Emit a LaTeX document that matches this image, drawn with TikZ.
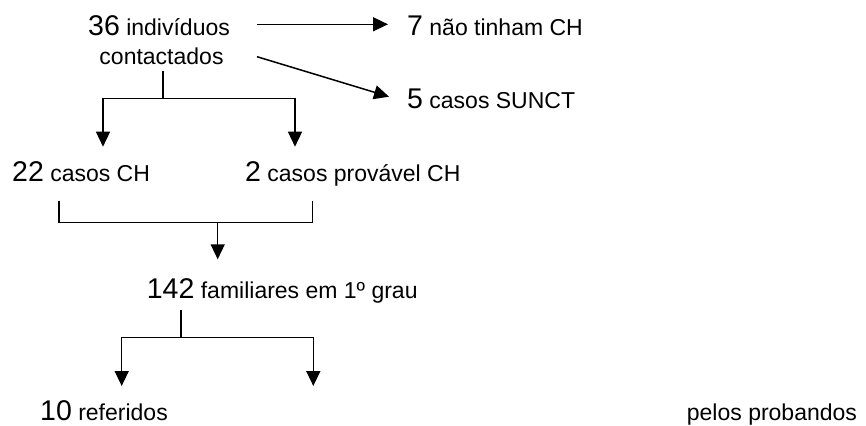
\documentclass[tikz,border=0pt]{standalone}
\usepackage{fontspec}
\setmainfont{Liberation Sans}
\usetikzlibrary{arrows.meta}
\newcommand{\numtxt}[1]{{\fontsize{28.5pt}{30pt}\selectfont #1}}
\newcommand{\wordtxt}{\fontsize{23pt}{28pt}\selectfont}
\begin{document}
\begin{tikzpicture}[x=1pt,y=-1pt,
  lbl/.style={anchor=base west, inner sep=0pt, font=\wordtxt},
  conn/.style={line width=1.5pt},
  arr/.style={conn,-{Triangle[length=15pt,width=14pt]}}]
\useasboundingbox[fill=white] (0,0) rectangle (866,425);
% texts
\node[lbl] (a1) at (88,36) {\numtxt{36} indivíduos};
\node[lbl, anchor=base] (a2) at (161.5,65) {contactados};
\node[lbl] (b) at (407,36) {\numtxt{7} não tinham CH};
\node[lbl] (c) at (407,108.3) {\numtxt{5} casos SUNCT};
\node[lbl] (d) at (12,181.7) {\numtxt{22} casos CH};
\node[lbl] (e) at (245,181.7) {\numtxt{2} casos provável CH};
\node[lbl] (f) at (146.7,298.3) {\numtxt{142} familiares em 1º grau};
\node[lbl] (g) at (40,420) {\numtxt{10} referidos};
\node[lbl] (h) at (686.7,420) {pelos probandos};
% connector coordinates
\coordinate (s1) at (257,24.3);
\coordinate (t1) at (388,24.3);
\coordinate (s2) at (257,56.7);
\coordinate (t2) at (389,96.7);
\coordinate (p1) at (163,70.7);
\coordinate (q1) at (163,98.3);
\coordinate (l1) at (103,98.3);
\coordinate (r1) at (295,98.3);
\coordinate (l1t) at (103,146.7);
\coordinate (r1t) at (295,146.7);
\coordinate (p2l) at (59,200.7);
\coordinate (b2l) at (59,222.7);
\coordinate (p2r) at (312.7,200.7);
\coordinate (b2r) at (312.7,222.7);
\coordinate (c2) at (217.7,222.7);
\coordinate (c2t) at (217.7,259.3);
\coordinate (p3) at (181,310);
\coordinate (q3) at (181,337.3);
\coordinate (l3) at (121.7,337.3);
\coordinate (r3) at (313.3,337.3);
\coordinate (l3t) at (121.7,386);
\coordinate (r3t) at (313.3,386);
% connectors
\draw[arr] (s1) -- (t1);
\draw[arr] (s2) -- (t2);
\draw[conn] (p1) -- (q1);
\draw[arr] (r1) -- (l1) -- (l1t);
\draw[arr] (l1) -- (r1) -- (r1t);
\draw[conn] (p2l) -- (b2l) -- (b2r) -- (p2r);
\draw[arr] (c2) -- (c2t);
\draw[conn] (p3) -- (q3);
\draw[arr] (r3) -- (l3) -- (l3t);
\draw[arr] (l3) -- (r3) -- (r3t);
\end{tikzpicture}
\end{document}
